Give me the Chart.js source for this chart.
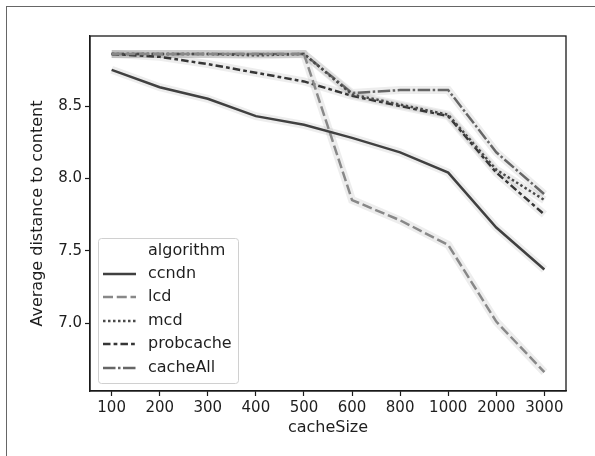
<!DOCTYPE html>
<html>
<head>
<meta charset="utf-8">
<script src="https://cdn.jsdelivr.net/npm/chart.js@4.4.0/dist/chart.umd.min.js"></script>
<style>
  body { margin: 0; background: #fff; }
  #wrap { position: relative; width: 595px; height: 456px; overflow: hidden; }
  #frame { position: absolute; left: 6px; top: 6px; width: 620px; height: 480px;
           border-left: 1px solid #666; border-top: 1px solid #666; pointer-events: none; }
</style>
</head>
<body>
<div id="wrap">
  <canvas id="chart" width="595" height="456"></canvas>
  <div id="frame"></div>
</div>
<script>
// categories on the x axis
const cacheSizes = ['100', '200', '300', '400', '500', '600', '800', '1000', '2000', '3000'];
const yTicks = [7.0, 7.5, 8.0, 8.5];

// series values
const ccndn     = [8.75, 8.63, 8.55, 8.43, 8.37, 8.28, 8.18, 8.04, 7.66, 7.37];
const lcd       = [8.86, 8.86, 8.86, 8.86, 8.86, 7.85, 7.71, 7.54, 7.01, 6.66];
const mcd       = [8.86, 8.86, 8.86, 8.85, 8.86, 8.58, 8.51, 8.44, 8.06, 7.85];
const probcache = [8.86, 8.84, 8.79, 8.73, 8.67, 8.57, 8.50, 8.43, 8.04, 7.75];
const cacheAll  = [8.86, 8.86, 8.86, 8.86, 8.86, 8.59, 8.61, 8.61, 8.18, 7.89];

const series = [
  { label: 'ccndn',     data: ccndn,     color: '#404040', dash: [] },
  { label: 'lcd',       data: lcd,       color: '#888888', dash: [10, 3.75] },
  { label: 'mcd',       data: mcd,       color: '#4a4a4a', dash: [2.5, 2.5] },
  { label: 'probcache', data: probcache, color: '#363636', dash: [7.5, 3.1, 3.75, 3.1] },
  { label: 'cacheAll',  data: cacheAll,  color: '#666666', dash: [12.5, 2.5, 2.5, 2.5] }
];

const FONT = 'DejaVu Sans';
const TEXT = '#1e1e1e';
const toPoints = arr => arr.map((v, i) => ({ x: i, y: v }));

const datasets = [];
// faint confidence bands behind each line
series.forEach(s => datasets.push({
  label: s.label + '_band', data: toPoints(s.data), borderColor: 'rgba(0,0,0,0.07)',
  borderWidth: 8, pointRadius: 0, order: 2
}));
series.forEach(s => datasets.push({
  label: s.label, data: toPoints(s.data), borderColor: s.color, borderDash: s.dash,
  borderWidth: 2.5, pointRadius: 0, order: 1, borderCapStyle: 'butt'
}));

// box around the axes + legend inside plot
const boxAndLegend = {
  id: 'boxAndLegend',
  afterDraw(chart) {
    const ctx = chart.ctx, a = chart.chartArea;
    ctx.save();
    ctx.strokeStyle = '#1a1a1a';
    ctx.lineWidth = 1.3;
    ctx.strokeRect(a.left, a.top, a.right - a.left, a.bottom - a.top);

    // legend
    const lx = 98, ly = 238, lw = 140, lh = 145;
    ctx.fillStyle = 'rgba(255,255,255,0.85)';
    ctx.strokeStyle = '#d0d0d0';
    ctx.lineWidth = 1;
    ctx.beginPath();
    ctx.roundRect(lx + 0.5, ly + 0.5, lw, lh, 3);
    ctx.fill();
    ctx.stroke();

    ctx.font = '16px "' + FONT + '"';
    ctx.fillStyle = TEXT;
    ctx.textBaseline = 'middle';
    ctx.textAlign = 'left';
    ctx.fillText('algorithm', 148, 251);
    const rows = [274, 297, 321, 344, 368];
    series.forEach((s, i) => {
      ctx.strokeStyle = s.color;
      ctx.lineWidth = 2.5;
      ctx.setLineDash(s.dash);
      ctx.beginPath();
      ctx.moveTo(103, rows[i]);
      ctx.lineTo(136, rows[i]);
      ctx.stroke();
      ctx.setLineDash([]);
      ctx.fillStyle = TEXT;
      ctx.fillText(s.label, 148, rows[i]);
    });
    ctx.restore();
  }
};

new Chart(document.getElementById('chart'), {
  type: 'line',
  data: { datasets },
  options: {
    responsive: false,
    animation: false,
    layout: { padding: { top: 36, right: 29, left: 0, bottom: 0 } },
    plugins: { legend: { display: false }, tooltip: { enabled: false } },
    scales: {
      x: {
        type: 'linear',
        min: -0.45,
        max: 9.45,
        afterBuildTicks: s => { s.ticks = cacheSizes.map((_, i) => ({ value: i })); },
        afterFit: s => { s.height = 65; },
        ticks: {
          callback: v => cacheSizes[v],
          font: { family: FONT, size: 15 },
          color: TEXT,
          padding: 3,
          maxRotation: 0,
          autoSkip: false
        },
        grid: { drawOnChartArea: false, tickLength: 5, color: '#1a1a1a', tickWidth: 1.2 },
        border: { display: true, color: '#1a1a1a', width: 1.3 },
        title: {
          display: true, text: 'cacheSize',
          font: { family: FONT, size: 16 }, color: TEXT,
          padding: { top: 2, bottom: 19 }
        }
      },
      y: {
        min: 6.53,
        max: 8.984,
        afterBuildTicks: s => { s.ticks = yTicks.map(v => ({ value: v })); },
        afterFit: s => { s.width = 90; },
        ticks: {
          callback: v => v.toFixed(1),
          font: { family: FONT, size: 15 },
          color: TEXT,
          padding: 3
        },
        grid: { drawOnChartArea: false, tickLength: 5, color: '#1a1a1a', tickWidth: 1.2 },
        border: { display: true, color: '#1a1a1a', width: 1.3 },
        title: {
          display: true, text: 'Average distance to content',
          font: { family: FONT, size: 16 }, color: TEXT,
          padding: { top: 28, bottom: 0 }
        }
      }
    }
  },
  plugins: [boxAndLegend]
});
</script>
</body>
</html>
